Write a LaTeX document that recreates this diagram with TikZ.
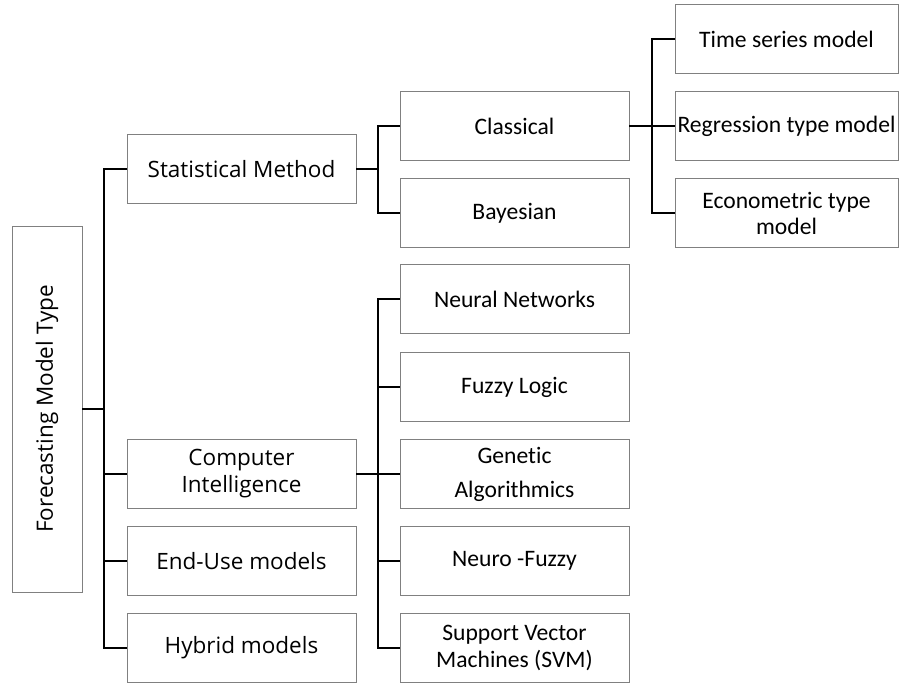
\documentclass[tikz,border=0pt]{standalone}
\usepackage{fontspec}
\newfontfamily\segfont{Open Sans}
\newfontfamily\calfont[Ligatures=NoCommon]{Carlito}
\definecolor{boxgray}{rgb}{0.5,0.5,0.5}
\begin{document}
\begin{tikzpicture}[x=1pt,y=-1pt,
  box/.style={draw=boxgray, line width=0.9pt, inner sep=0pt, align=center, minimum height=69pt},
  lone/.style={box, minimum width=229pt, font=\segfont\fontsize{22.5}{27}\selectfont},
  ltwo/.style={box, minimum width=229pt, font=\calfont\fontsize{23.6}{27}\selectfont},
  lthree/.style={box, minimum width=223pt, font=\calfont\fontsize{23.6}{26}\selectfont},
  conn/.style={draw=black, line width=1.8pt}]
\useasboundingbox (0,0) rectangle (899,683);
% root
\node[box, minimum width=70pt, minimum height=366pt, font=\segfont\fontsize{22.5}{27}\selectfont] (root) at (47,409) {\rotatebox{90}{Forecasting Model Type}};
% level 1
\node[lone] (stat) at (241.5,169) {Statistical Method};
\node[lone] (ci)   at (241.5,474) {Computer\\Intelligence};
\node[lone] (eu)   at (241.5,561) {End-Use models};
\node[lone] (hyb)  at (241.5,648) {Hybrid models};
% level 2
\node[ltwo] (cls)  at (514.5,126) {Classical};
\node[ltwo] (bay)  at (514.5,213) {Bayesian};
\node[ltwo] (nn)   at (514.5,299) {Neural Networks};
\node[ltwo] (fl)   at (514.5,387) {Fuzzy Logic};
\node[ltwo, font=\calfont\fontsize{23.6}{34}\selectfont] (ga) at (514.5,474) {Genetic\\Algorithmics};
\node[ltwo] (nf)   at (514.5,561) {Neuro -Fuzzy};
\node[ltwo] (svm)  at (514.5,648) {Support Vector\\Machines (SVM)};
% level 3
\node[lthree] (ts)  at (786.5,39)  {Time series model};
\node[lthree] (reg) at (786.5,126) {Regression type model};
\node[lthree] (eco) at (786.5,213) {Econometric type\\model};
% bus coordinates
\coordinate (busA) at (104,409);
\coordinate (busB) at (378,169);
\coordinate (busC) at (378,474);
\coordinate (busD) at (652,126);
% connectors
\draw[conn] (root.east) -- (busA);
\draw[conn] (stat.west) -| (busA) |- (hyb.west);
\draw[conn] (ci.west) -- (ci.west -| busA);
\draw[conn] (eu.west) -- (eu.west -| busA);
\draw[conn] (stat.east) -- (busB);
\draw[conn] (cls.west) -| (busB) |- (bay.west);
\draw[conn] (ci.east) -- (busC);
\draw[conn] (nn.west) -| (busC) |- (svm.west);
\draw[conn] (fl.west) -- (fl.west -| busC);
\draw[conn] (busC) -- (ga.west);
\draw[conn] (nf.west) -- (nf.west -| busC);
\draw[conn] (cls.east) -- (busD);
\draw[conn] (ts.west) -| (busD) |- (eco.west);
\draw[conn] (busD) -- (reg.west);
\end{tikzpicture}
\end{document}
